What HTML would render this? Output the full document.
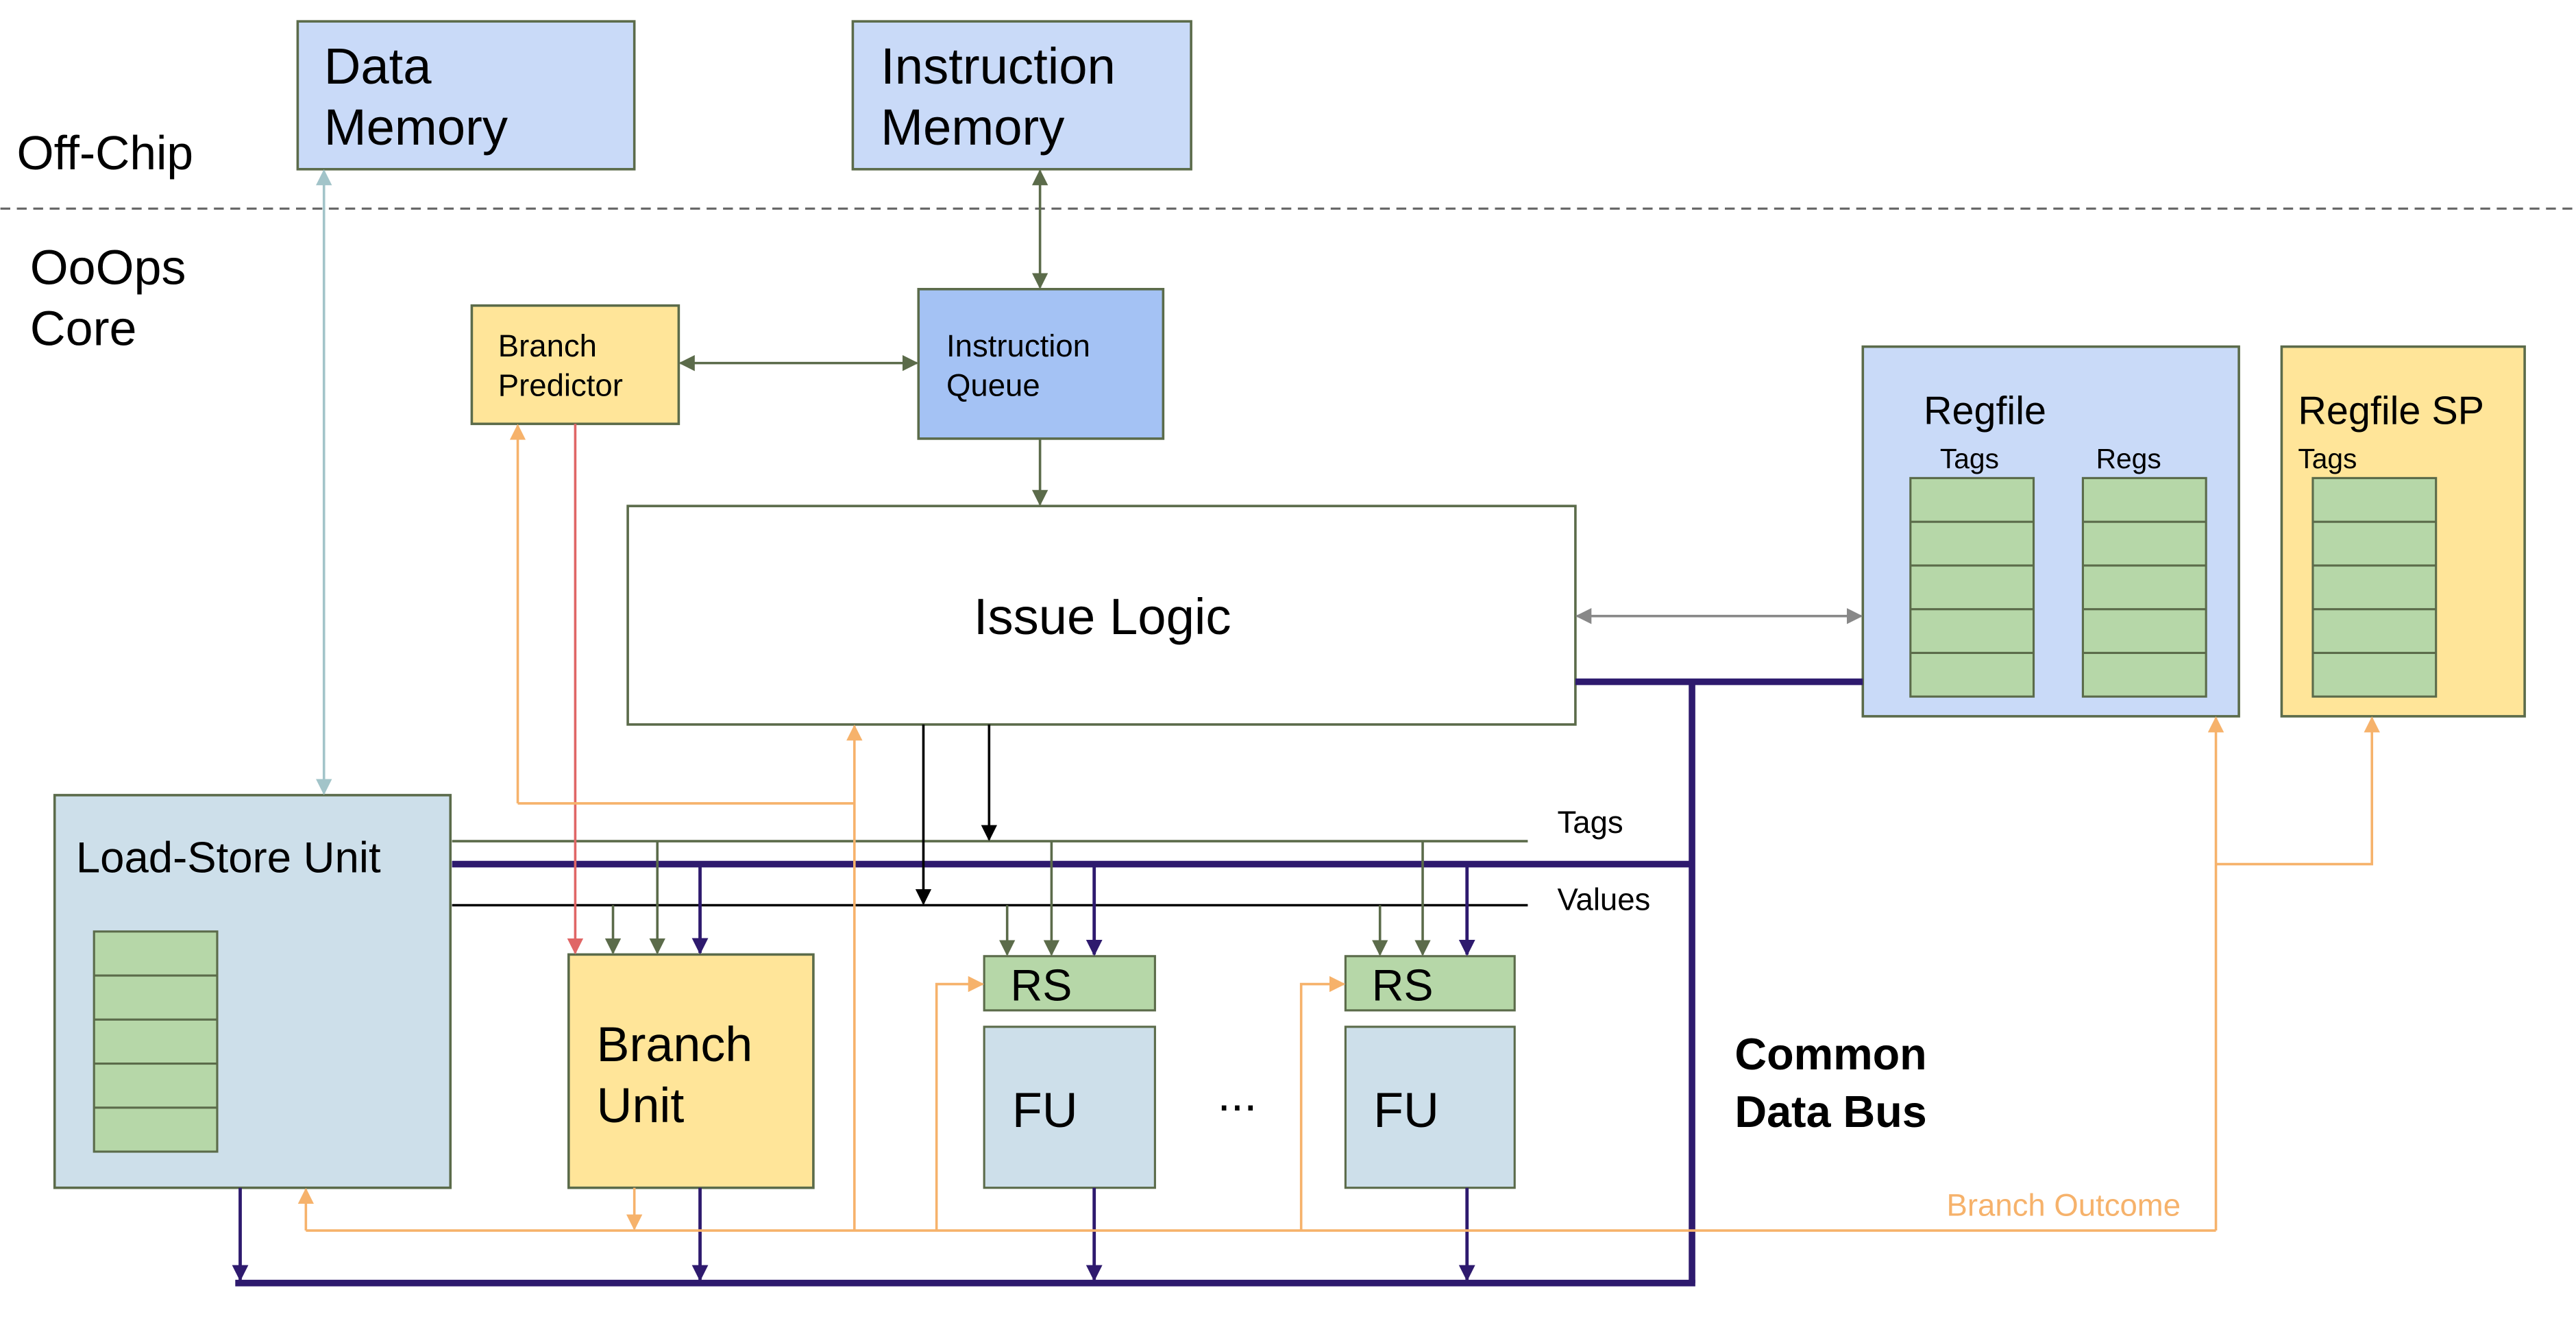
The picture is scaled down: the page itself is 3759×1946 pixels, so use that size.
<!DOCTYPE html>
<html><head><meta charset="utf-8"><style>
html,body{margin:0;padding:0;background:#fff;}
svg{display:block;}
text{font-family:"Liberation Sans",sans-serif;}
</style></head><body>
<svg width="3759" height="1946" viewBox="0 0 1568 812" xmlns="http://www.w3.org/2000/svg">
<defs>
<marker id="ao" viewBox="0 0 10 10" refX="9" refY="5" markerWidth="6.5" markerHeight="6.5" orient="auto-start-reverse"><path d="M0,0L10,5L0,10z" fill="#5b6b4a"/></marker>
<marker id="ag" viewBox="0 0 10 10" refX="9" refY="5" markerWidth="6.5" markerHeight="6.5" orient="auto-start-reverse"><path d="M0,0L10,5L0,10z" fill="#888"/></marker>
<marker id="ab" viewBox="0 0 10 10" refX="9" refY="5" markerWidth="6.5" markerHeight="6.5" orient="auto-start-reverse"><path d="M0,0L10,5L0,10z" fill="#a2c4c9"/></marker>
<marker id="ak" viewBox="0 0 10 10" refX="9" refY="5" markerWidth="6.5" markerHeight="6.5" orient="auto-start-reverse"><path d="M0,0L10,5L0,10z" fill="#000"/></marker>
<marker id="ap" viewBox="0 0 10 10" refX="9" refY="5" markerWidth="5" markerHeight="5" orient="auto-start-reverse"><path d="M0,0L10,5L0,10z" fill="#2e1a6e"/></marker>
<marker id="ar" viewBox="0 0 10 10" refX="9" refY="5" markerWidth="6.5" markerHeight="6.5" orient="auto-start-reverse"><path d="M0,0L10,5L0,10z" fill="#e06666"/></marker>
<marker id="ay" viewBox="0 0 10 10" refX="9" refY="5" markerWidth="6.5" markerHeight="6.5" orient="auto-start-reverse"><path d="M0,0L10,5L0,10z" fill="#f6b26b"/></marker>
</defs>

<text x="10" y="103" font-size="29">Off-Chip</text>
<line x1="0" y1="127" x2="1568" y2="127" stroke="#666" stroke-width="1.3" stroke-dasharray="6,4"/>
<text x="18" y="173" font-size="30">OoOps</text>
<text x="18" y="210" font-size="30">Core</text>

<rect x="181" y="13" width="205" height="90" fill="#c9daf8" stroke="#5b6b4a" stroke-width="1.5"/>
<text x="197" y="51" font-size="31">Data</text><text x="197" y="88" font-size="31">Memory</text>
<rect x="519" y="13" width="206" height="90" fill="#c9daf8" stroke="#5b6b4a" stroke-width="1.5"/>
<text x="536" y="51" font-size="31">Instruction</text><text x="536" y="88" font-size="31">Memory</text>

<rect x="287" y="186" width="126" height="72" fill="#ffe599" stroke="#5b6b4a" stroke-width="1.5"/>
<text x="303" y="217" font-size="19">Branch</text><text x="303" y="241" font-size="19">Predictor</text>
<rect x="559" y="176" width="149" height="91" fill="#a4c2f4" stroke="#5b6b4a" stroke-width="1.5"/>
<text x="576" y="217" font-size="19">Instruction</text><text x="576" y="241" font-size="19">Queue</text>

<rect x="382" y="308" width="577" height="133" fill="#fff" stroke="#5b6b4a" stroke-width="1.5"/>
<text x="671" y="386" font-size="31" text-anchor="middle">Issue Logic</text>

<rect x="1134" y="211" width="229" height="225" fill="#c9daf8" stroke="#5b6b4a" stroke-width="1.5"/>
<text x="1171" y="258" font-size="24">Regfile</text>
<text x="1181" y="285" font-size="17">Tags</text><text x="1276" y="285" font-size="17">Regs</text>
<rect x="1389" y="211" width="148" height="225" fill="#ffe599" stroke="#5b6b4a" stroke-width="1.5"/>
<text x="1399" y="258" font-size="24">Regfile SP</text>
<text x="1399" y="285" font-size="17">Tags</text>

<g fill="#b6d7a8" stroke="#5b6b4a" stroke-width="1.3">
<rect x="1163" y="291" width="75" height="133"/>
<rect x="1268" y="291" width="75" height="133"/>
<rect x="1408" y="291" width="75" height="133"/>
</g>
<g stroke="#5b6b4a" stroke-width="1.3">
<path d="M1163 317.6h75M1163 344.2h75M1163 370.8h75M1163 397.4h75"/>
<path d="M1268 317.6h75M1268 344.2h75M1268 370.8h75M1268 397.4h75"/>
<path d="M1408 317.6h75M1408 344.2h75M1408 370.8h75M1408 397.4h75"/>
</g>

<rect x="33" y="484" width="241" height="239" fill="#cddfea" stroke="#5b6b4a" stroke-width="1.5"/>
<text x="46" y="531" font-size="26.5">Load-Store Unit</text>
<rect x="57" y="567" width="75" height="134" fill="#b6d7a8" stroke="#5b6b4a" stroke-width="1.3"/>
<path d="M57 593.8h75M57 620.6h75M57 647.4h75M57 674.2h75" stroke="#5b6b4a" stroke-width="1.3"/>

<rect x="346" y="581" width="149" height="142" fill="#ffe599" stroke="#5b6b4a" stroke-width="1.5"/>
<text x="363" y="646" font-size="30">Branch</text><text x="363" y="683" font-size="30">Unit</text>

<rect x="599" y="582" width="104" height="33" fill="#b6d7a8" stroke="#5b6b4a" stroke-width="1.3"/>
<text x="615" y="609" font-size="27">RS</text>
<rect x="599" y="625" width="104" height="98" fill="#cddfea" stroke="#5b6b4a" stroke-width="1.3"/>
<text x="616" y="686" font-size="30">FU</text>
<rect x="819" y="582" width="103" height="33" fill="#b6d7a8" stroke="#5b6b4a" stroke-width="1.3"/>
<text x="835" y="609" font-size="27">RS</text>
<rect x="819" y="625" width="103" height="98" fill="#cddfea" stroke="#5b6b4a" stroke-width="1.3"/>
<text x="836" y="686" font-size="30">FU</text>
<text x="741" y="676" font-size="29">...</text>

<text x="1056" y="651" font-size="27" font-weight="bold">Common</text>
<text x="1056" y="686" font-size="27" font-weight="bold">Data Bus</text>

<line x1="275" y1="512" x2="930" y2="512" stroke="#5b6b4a" stroke-width="1.5"/>
<text x="948" y="507" font-size="19">Tags</text>
<line x1="275" y1="551" x2="930" y2="551" stroke="#000" stroke-width="1.5"/>
<text x="948" y="554" font-size="19">Values</text>

<g stroke="#2e1a6e" stroke-width="4" fill="none">
<path d="M275 526H1030"/>
<path d="M1030 415V781"/>
<path d="M959 415H1134"/>
<path d="M143 781H1032"/>
</g>
<g stroke="#2e1a6e" stroke-width="2" marker-end="url(#ap)">
<line x1="426" y1="526" x2="426" y2="580"/>
<line x1="666" y1="526" x2="666" y2="581"/>
<line x1="893" y1="526" x2="893" y2="581"/>
<line x1="146" y1="723" x2="146" y2="779"/>
<line x1="426" y1="723" x2="426" y2="779"/>
<line x1="666" y1="723" x2="666" y2="779"/>
<line x1="893" y1="723" x2="893" y2="779"/>
</g>
<g stroke="#5b6b4a" stroke-width="1.5" marker-end="url(#ao)">
<line x1="400" y1="512" x2="400" y2="580"/>
<line x1="640" y1="512" x2="640" y2="581"/>
<line x1="866" y1="512" x2="866" y2="581"/>
<line x1="373" y1="551" x2="373" y2="580"/>
<line x1="613" y1="551" x2="613" y2="581"/>
<line x1="840" y1="551" x2="840" y2="581"/>
<line x1="633" y1="267" x2="633" y2="307"/>
</g>
<g stroke="#5b6b4a" stroke-width="1.5" marker-start="url(#ao)" marker-end="url(#ao)">
<line x1="633" y1="104" x2="633" y2="175"/>
<line x1="414" y1="221" x2="558" y2="221"/>
</g>
<line x1="197" y1="104" x2="197" y2="483" stroke="#a2c4c9" stroke-width="1.5" marker-start="url(#ab)" marker-end="url(#ab)"/>
<line x1="960" y1="375" x2="1133" y2="375" stroke="#888" stroke-width="1.5" marker-start="url(#ag)" marker-end="url(#ag)"/>
<g stroke="#000" stroke-width="1.5" marker-end="url(#ak)">
<line x1="562" y1="441" x2="562" y2="550"/>
<line x1="602" y1="441" x2="602" y2="511"/>
</g>
<line x1="350" y1="258" x2="350" y2="580" stroke="#e06666" stroke-width="1.5" marker-end="url(#ar)"/>

<g stroke="#f6b26b" stroke-width="1.5" fill="none">
<path d="M186 749H1349"/>
<path d="M520 489H315"/>
<path d="M520 749V442" marker-end="url(#ay)"/>
<path d="M315 489V259" marker-end="url(#ay)"/>
<path d="M186 749V724" marker-end="url(#ay)"/>
<path d="M1349 749V437" marker-end="url(#ay)"/>
<path d="M1349 526H1444V437" marker-end="url(#ay)"/>
<path d="M386 723V748" marker-end="url(#ay)"/>
<path d="M570 749V599H598" marker-end="url(#ay)"/>
<path d="M792 749V599H818" marker-end="url(#ay)"/>
</g>
<text x="1185" y="740" font-size="19" fill="#f6b26b">Branch Outcome</text>
</svg>
</body></html>
